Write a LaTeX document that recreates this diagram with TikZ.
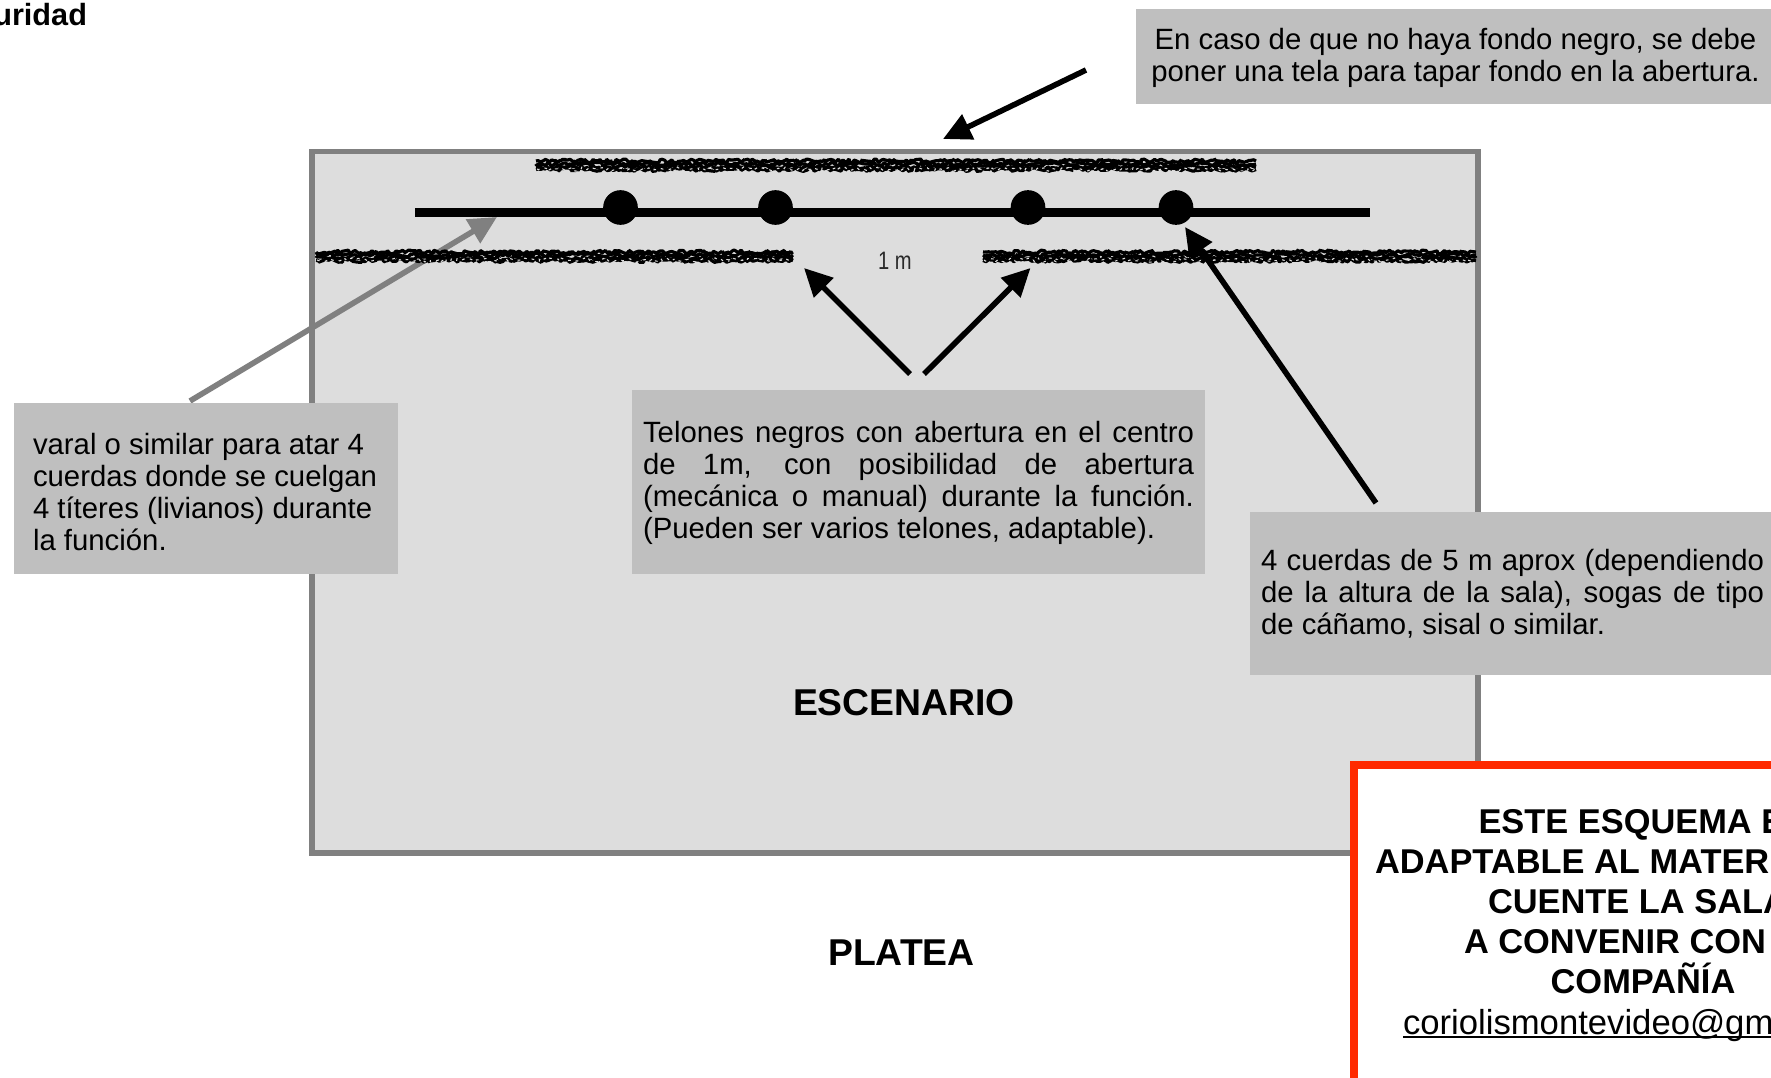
\documentclass[tikz,border=0pt]{standalone}
\usepackage{fontspec}
\setmainfont{Liberation Sans}
\usetikzlibrary{arrows.meta,decorations.pathmorphing}
\definecolor{stagefill}{HTML}{DDDDDD}
\definecolor{stageline}{HTML}{808080}
\definecolor{notefill}{HTML}{BFBFBF}
\definecolor{alertred}{HTML}{FF2A00}
\definecolor{thinink}{HTML}{2A2A2A}
\newfontfamily\narrowfont[FakeStretch=0.8]{Liberation Sans}
\newlength{\pxu}\setlength{\pxu}{0.75pt}
\newcommand{\bodyfs}{\fontsize{22pt}{24pt}\selectfont}
\newcommand{\titlefs}{\fontsize{28pt}{30pt}\selectfont\bfseries}
\newcommand{\alertfs}{\fontsize{25.8pt}{30pt}\selectfont\bfseries}
\newcommand{\stretchline}[2]{\makebox[#1\pxu][s]{#2}}
\newcommand{\ulcut}[1]{\setbox0\hbox{#1}\rlap{\rule[-3.2pt]{\wd0}{1.5pt}}\box0}
\tikzset{
  x=0.75pt,y=-0.75pt,
  note/.style={fill=notefill,draw=none,inner sep=0,outer sep=0,minimum width=#1*\pxu,anchor=north west},
  bodytext/.style={inner sep=0,outer sep=0,font=\bodyfs,text=black,anchor=base west},
  alerttext/.style={inner sep=0,outer sep=0,font=\alertfs,text=black,anchor=base west},
  titletext/.style={inner sep=0,outer sep=0,font=\titlefs,text=black,anchor=base},
  callout/.style={draw=black,line width=4.2pt,-{Triangle[length=21pt,width=20pt]}},
  callgray/.style={draw=stageline,line width=4.2pt,-{Triangle[length=21pt,width=20pt]}},
  rough/.style={black,line width=2.4pt,line join=bevel,decorate,decoration={random steps,segment length=1.6pt,amplitude=1.4pt}},
  speck/.style={stagefill,line width=0.8pt,line join=bevel,dash pattern=on 2pt off 4pt,decorate,decoration={random steps,segment length=2pt,amplitude=1.6pt}},
  rail/.style={black,line width=6.4pt},
  knot/.style={circle,fill=black,draw=none,minimum size=26pt,inner sep=0},
}
\begin{document}
\begin{tikzpicture}
\useasboundingbox (0,0) rectangle (1771,1078);
\fill[white] (0,0) rectangle (1771,1078);
\pgfmathsetseed{7}
% stage
\node[draw=stageline,fill=stagefill,line width=4.2pt,inner sep=0,outer sep=0,minimum width=874.5pt,minimum height=526.2pt,anchor=north west] (stage) at (312,151.5) {};
% varal arrow goes below the curtains
\coordinate (varalstart) at (190,401);
\coordinate (varalend) at (497,217);
\draw[callgray] (varalstart) -- (varalend);
% curtains
\foreach \yy in {161,164,167,169.5}{
  \draw[rough] (536,\yy) -- (1256,\yy);
}
\foreach \yy in {252,255,258,260.5}{
  \draw[rough] (316,\yy) -- (793,\yy);
  \draw[rough] (983,\yy) -- (1476,\yy);
}
\draw[speck] (537,169) -- (1255,169);
\draw[speck] (317,260) -- (792,260);
\draw[speck] (984,260) -- (1475,260);
% rail and knots
\coordinate (railL) at (415,212.5);
\coordinate (railR) at (1370,212.5);
\draw[rail] (railL) -- (railR);
\node[knot] (k1) at (620.5,207.5) {};
\node[knot] (k2) at (775.5,207.5) {};
\node[knot] (k3) at (1028,207.5) {};
\node[knot] (k4) at (1176,207.5) {};
% notes
\node[note=635,minimum height=71.25pt] (top) at (1136,9) {};
\node[note=384,minimum height=128.6pt] (left) at (14,403) {};
\node[note=573,minimum height=138.4pt] (center) at (632,389.5) {};
\node[note=521,minimum height=122.6pt] (right) at (1250,511.5) {};
% arrows
\coordinate (a1s) at (1086,70); \coordinate (a1e) at (943,139);
\coordinate (a2s) at (910,374); \coordinate (a2e) at (804,268);
\coordinate (a3s) at (924,374); \coordinate (a3e) at (1030.5,268);
\coordinate (a4s) at (1376,503); \coordinate (a4e) at (1185,227);
\draw[callout] (a1s) -- (a1e);
\draw[callout] (a2s) -- (a2e);
\draw[callout] (a3s) -- (a3e);
\draw[callout] (a4s) -- (a4e);
% texts
\node[inner sep=0,outer sep=0,font=\titlefs,anchor=base east] (cut) at (87,25) {\fontsize{23pt}{26pt}\selectfont uridad};
\node[bodytext,anchor=base] (t1a) at (1455.5,49) {En caso de que no haya fondo negro, se debe};
\node[bodytext,anchor=base] (t1b) at (1455.5,81) {poner una tela para tapar fondo en la abertura.};
\node[bodytext] (t2a) at (33,454) {varal o similar para atar 4};
\node[bodytext] (t2b) at (33,486) {cuerdas donde se cuelgan};
\node[bodytext] (t2c) at (33,518) {4 títeres (livianos) durante};
\node[bodytext] (t2d) at (33,550) {la función.};
\node[bodytext] (t3a) at (643,442) {\stretchline{551}{Telones negros con abertura en el centro}};
\node[bodytext] (t3b) at (643,474) {\stretchline{551}{de 1m, con posibilidad de abertura}};
\node[bodytext] (t3c) at (643,506) {\stretchline{551}{(mecánica o manual) durante la función.}};
\node[bodytext] (t3d) at (643,538) {(Pueden ser varios telones, adaptable).};
\node[bodytext] (t4a) at (1261,570) {\stretchline{503}{4 cuerdas de 5 m aprox (dependiendo}};
\node[bodytext] (t4b) at (1261,602) {\stretchline{503}{de la altura de la sala), sogas de tipo}};
\node[bodytext] (t4c) at (1261,634) {de cáñamo, sisal o similar.};
\node[inner sep=0,outer sep=0,anchor=base,text=thinink,font=\narrowfont\fontsize{18.9pt}{20pt}\selectfont] (onem) at (895,269) {1 m};
\node[titletext] (esc) at (904,715) {ESCENARIO};
\node[titletext] (pla) at (901.5,965) {PLATEA};
% alert
\node[draw=alertred,fill=white,line width=6pt,inner sep=0,outer sep=0,minimum width=400pt,minimum height=237.75pt,anchor=north west] (alert) at (1354,764.5) {};
\node[alerttext] (r1) at (1478.5,833.5) {ESTE ESQUEMA E};
\node[alerttext] (r2) at (1375,873.5) {ADAPTABLE AL MATER};
\node[alerttext] (r3) at (1488,913.5) {CUENTE LA SALA};
\node[alerttext] (r4) at (1464,953.5) {A CONVENIR CON};
\node[alerttext,anchor=base] (r5) at (1643,993.5) {COMPAÑÍA};
\node[alerttext,font=\fontsize{26pt}{30pt}\selectfont] (r6) at (1403,1034) {\ulcut{coriolismontevideo@gm}};
\end{tikzpicture}
\end{document}
